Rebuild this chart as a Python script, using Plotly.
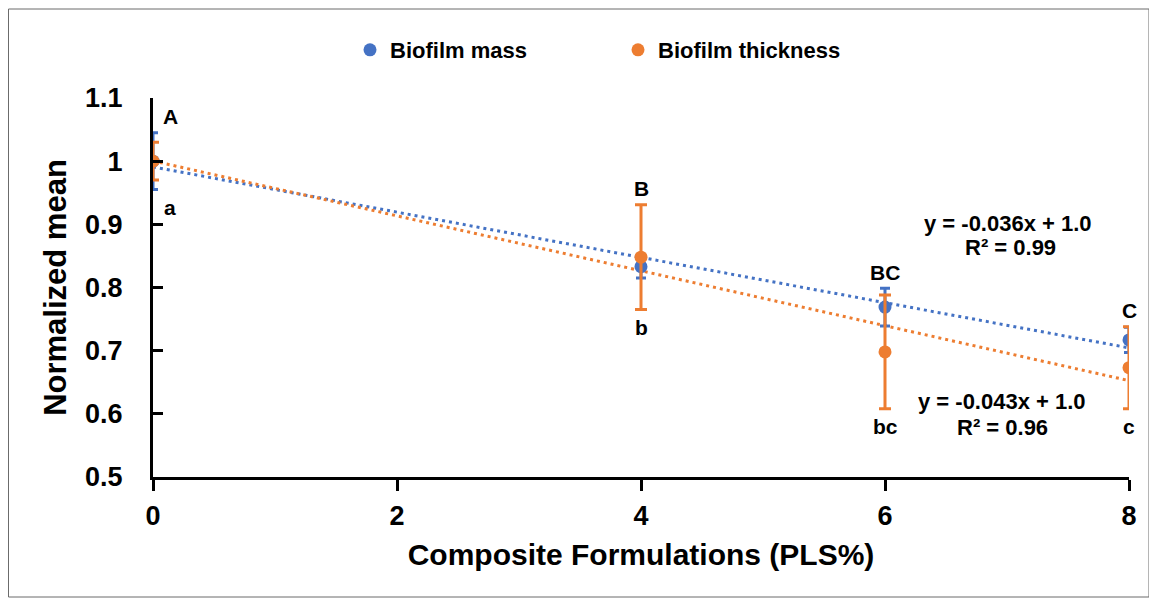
import numpy as np
import plotly.graph_objects as go

# ---- data ----
pls = [0, 4, 6, 8]
mass_mean = [1.000, 0.833, 0.769, 0.717]
mass_err = [0.045, 0.018, 0.030, 0.020]
thick_mean = [1.000, 0.848, 0.698, 0.673]
thick_err = [0.030, 0.083, 0.090, 0.065]
upper_letters = ["A", "B", "BC", "C"]
lower_letters = ["a", "b", "bc", "c"]
eq_mass = ["y = -0.036x + 1.0", "R² = 0.99"]
eq_thick = ["y = -0.043x + 1.0", "R² = 0.96"]
x_ticks = [0, 2, 4, 6, 8]
y_ticks = [0.5, 0.6, 0.7, 0.8, 0.9, 1.0, 1.1]

BLUE = "#4472C4"
ORANGE = "#ED7D31"
FONT = "Liberation Sans, Arial, sans-serif"

# page body adds an 8px margin, so the figure is sized to fit the window
OFF = 8
W, H = 1157 - OFF, 601 - OFF
ML, MR, MT, MB = 145, 28, 90, 124

fig = go.Figure()

# linear trendlines (least squares fit of the data)
xs = np.array(pls, dtype=float)
xfit = np.array([xs.min(), xs.max()])
for ys, col in ((mass_mean, BLUE), (thick_mean, ORANGE)):
    k, b = np.polyfit(xs, np.array(ys), 1)
    fig.add_trace(go.Scatter(x=xfit, y=k * xfit + b, mode="lines",
                             line=dict(color=col, width=3, dash="3px,4px"),
                             showlegend=False, hoverinfo="skip"))

fig.add_trace(go.Scatter(
    x=pls, y=mass_mean, mode="markers", name="Biofilm mass",
    marker=dict(color=BLUE, size=13),
    error_y=dict(type="data", array=mass_err, color=BLUE, thickness=3, width=5)))
fig.add_trace(go.Scatter(
    x=pls, y=thick_mean, mode="markers", name="Biofilm thickness",
    marker=dict(color=ORANGE, size=13),
    error_y=dict(type="data", array=thick_err, color=ORANGE, thickness=3, width=6)))

LBL = dict(family=FONT, size=21, color="black", weight="bold")
# significance letters
for i, xv in enumerate(pls):
    top = max(mass_mean[i] + mass_err[i], thick_mean[i] + thick_err[i])
    bot = min(mass_mean[i] - mass_err[i], thick_mean[i] - thick_err[i])
    xs_shift = 17 if i == 0 else 0
    fig.add_annotation(x=xv, y=top, text=upper_letters[i], showarrow=False,
                       yanchor="middle", yshift=16, xshift=xs_shift, font=LBL)
    fig.add_annotation(x=xv, y=bot, text=lower_letters[i], showarrow=False,
                       yanchor="middle", yshift=-18, xshift=xs_shift, font=LBL)

# equations
EQ = dict(family=FONT, size=22, color="black", weight="bold")
for txt, (xa, ya) in zip(eq_mass, [(7.01, 0.902), (7.03, 0.863)]):
    fig.add_annotation(x=xa, y=ya, text=txt, showarrow=False, font=EQ)
for txt, (xa, ya) in zip(eq_thick, [(6.96, 0.619), (6.96, 0.578)]):
    fig.add_annotation(x=xa, y=ya, text=txt, showarrow=False, font=EQ)

pw = W - ML - MR
ph = H - MT - MB
def px_x(p):  # absolute window pixel -> paper
    return (p - OFF - ML) / pw
def px_y(p):
    return (H - MB - (p - OFF)) / ph

fig.add_shape(type="rect", xref="paper", yref="paper",
              x0=px_x(8.5), x1=px_x(1149), y0=px_y(597), y1=px_y(9),
              line=dict(color="#6b6b6b", width=1), fillcolor="rgba(0,0,0,0)", layer="below")

fig.update_layout(
    width=W, height=H,
    margin=dict(l=ML, r=MR, t=MT, b=MB, autoexpand=False),
    paper_bgcolor="white", plot_bgcolor="white",
    font=dict(family=FONT, color="black"),
    showlegend=True,
    legend=dict(orientation="h", x=px_x(350), y=px_y(50), xanchor="left", yanchor="middle",
                font=dict(family=FONT, size=22, color="black", weight="bold"),
                itemwidth=30, entrywidth=223, bgcolor="rgba(0,0,0,0)"),
    xaxis=dict(range=[0, 8], tickvals=x_ticks, showgrid=False, zeroline=False,
               showline=True, linecolor="black", linewidth=3,
               ticks="outside", ticklen=11, tickwidth=3, tickcolor="black",
               ticklabelstandoff=2,
               tickfont=dict(family=FONT, size=27, color="black", weight="bold"),
               title=dict(text="Composite Formulations (PLS%)", standoff=14,
                          font=dict(family=FONT, size=30, color="black", weight="bold"))),
    yaxis=dict(range=[0.5, 1.1], tickvals=y_ticks, showgrid=False, zeroline=False,
               showline=True, linecolor="black", linewidth=3,
               ticks="inside", ticklen=10, tickwidth=3, tickcolor="black",
               ticklabelstandoff=22,
               tickfont=dict(family=FONT, size=27, color="black", weight="bold"),
               title=dict(text="Normalized mean", standoff=10,
                          font=dict(family=FONT, size=31, color="black", weight="bold"))),
)

fig.write_html("out.html")
